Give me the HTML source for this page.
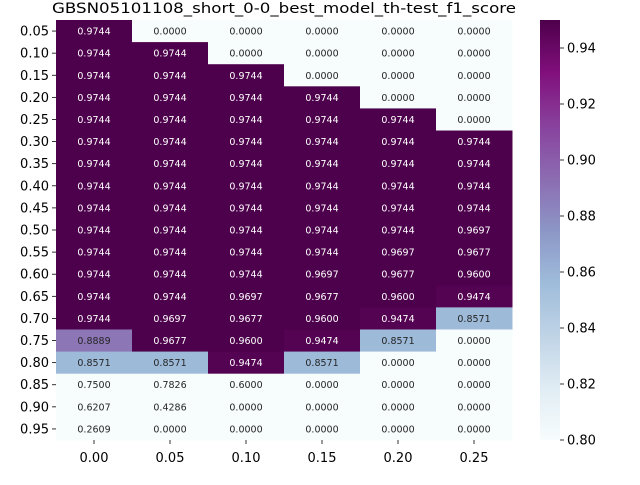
<!DOCTYPE html>
<html><head><meta charset="utf-8"><style>
body{margin:0;background:#fff;font-family:"Liberation Sans","DejaVu Sans",sans-serif;}
svg text{font-family:"DejaVu Sans","Liberation Sans",sans-serif;}
</style></head><body>
<svg id="chart" width="640" height="480" xmlns="http://www.w3.org/2000/svg">
<defs><linearGradient id="cb" x1="0" y1="1" x2="0" y2="0"></linearGradient></defs>
<text x="284" y="13" text-anchor="middle" font-size="14.5" textLength="464" lengthAdjust="spacingAndGlyphs">GBSN05101108_short_0-0_best_model_th-test_f1_score</text>
<g id="cells"></g><g id="yaxis"></g><g id="xaxis"></g><g id="cbar"></g>
</svg>
<script>
const xLabels=["0.00","0.05","0.10","0.15","0.20","0.25"];
const yLabels=["0.05","0.10","0.15","0.20","0.25","0.30","0.35","0.40","0.45","0.50","0.55","0.60","0.65","0.70","0.75","0.80","0.85","0.90","0.95"];
const col0=[0.9744,0.9744,0.9744,0.9744,0.9744,0.9744,0.9744,0.9744,0.9744,0.9744,0.9744,0.9744,0.9744,0.9744,0.8889,0.8571,0.75,0.6207,0.2609];
const col1=[0,0.9744,0.9744,0.9744,0.9744,0.9744,0.9744,0.9744,0.9744,0.9744,0.9744,0.9744,0.9744,0.9697,0.9677,0.8571,0.7826,0.4286,0];
const col2=[0,0,0.9744,0.9744,0.9744,0.9744,0.9744,0.9744,0.9744,0.9744,0.9744,0.9744,0.9697,0.9677,0.96,0.9474,0.6,0,0];
const col3=[0,0,0,0.9744,0.9744,0.9744,0.9744,0.9744,0.9744,0.9744,0.9744,0.9697,0.9677,0.96,0.9474,0.8571,0,0,0];
const col4=[0,0,0,0,0.9744,0.9744,0.9744,0.9744,0.9744,0.9744,0.9697,0.9677,0.96,0.9474,0.8571,0,0,0,0];
const col5=[0,0,0,0,0,0.9744,0.9744,0.9744,0.9744,0.9697,0.9677,0.96,0.9474,0.8571,0,0,0,0,0];
const columns=[col0,col1,col2,col3,col4,col5];
const cbTicks=[0.80,0.82,0.84,0.86,0.88,0.90,0.92,0.94];
const vmin=0.8,vmax=0.95;
const L=56,R=512,T=20,B=440;
const cw=(R-L)/xLabels.length, ch=(B-T)/yLabels.length;
const stops=["#f7fcfd","#e0ecf4","#bfd3e6","#9ebcda","#8c96c6","#8c6bb1","#88419d","#810f7c","#4d004b"];
function hex(h){return [1,3,5].map(i=>parseInt(h.substr(i,2),16));}
function cmap(v){let t=Math.max(0,Math.min(1,(v-vmin)/(vmax-vmin)))*(stops.length-1);let i=Math.min(stops.length-2,Math.floor(t));let f=t-i;let a=hex(stops[i]),b=hex(stops[i+1]);let c=a.map((x,k)=>Math.round(x+(b[k]-x)*f));return {css:`rgb(${c})`,lum:(0.299*c[0]+0.587*c[1]+0.114*c[2])/255};}
const NS="http://www.w3.org/2000/svg";
function mk(tag,attrs,parent){const e=document.createElementNS(NS,tag);for(const k in attrs)e.setAttribute(k,attrs[k]);parent.appendChild(e);return e;}
const xs=i=>L+i*cw, ys=j=>T+j*ch;
const cells=document.getElementById('cells');
columns.forEach((col,i)=>col.forEach((v,j)=>{
 const c=cmap(v);
 const r=mk('rect',{x:xs(i),y:ys(j),width:cw+0.5,height:ch+0.5,fill:c.css},cells);
 
 
 const t=mk('text',{x:xs(i)+cw/2,y:ys(j)+ch/2+3.5,'text-anchor':'middle','font-size':'9.5',fill:c.lum<0.5?'#fff':'#262626'},cells);
 t.textContent=v.toFixed(4);
 
 
}));
const ya=document.getElementById('yaxis');
yLabels.forEach((l,j)=>{const y=ys(j)+ch/2;
 const tk=mk('line',{x1:L-4,x2:L,y1:y,y2:y,stroke:'#000','stroke-width':0.8},ya);
 
 
 const t=mk('text',{x:L-7,y:y+4.5,'text-anchor':'end','font-size':'13'},ya);t.textContent=l;
 
 });
const xa=document.getElementById('xaxis');
xLabels.forEach((l,i)=>{const x=xs(i)+cw/2;
 const tk=mk('line',{x1:x,x2:x,y1:B,y2:B+4,stroke:'#000','stroke-width':0.8},xa);
 
 
 const t=mk('text',{x:x,y:B+22,'text-anchor':'middle','font-size':'13'},xa);t.textContent=l;
 
 });
const g=document.getElementById('cb');
stops.forEach((s,k)=>mk('stop',{offset:k/(stops.length-1),'stop-color':s},g));
const cb=document.getElementById('cbar');
const CL=540,CR=560;
const cy=v=>B-(v-vmin)/(vmax-vmin)*(B-T);
const bar=mk('rect',{x:CL,y:T,width:CR-CL,height:B-T,fill:'url(#cb)'},cb);


cbTicks.forEach(v=>{const y=cy(v);
 const tk=mk('line',{x1:CR,x2:CR+4,y1:y,y2:y,stroke:'#000','stroke-width':0.8},cb);
 
 
 const t=mk('text',{x:CR+7,y:y+4.5,'font-size':'13'},cb);t.textContent=v.toFixed(2);
 
 });
</script>
</body></html>
